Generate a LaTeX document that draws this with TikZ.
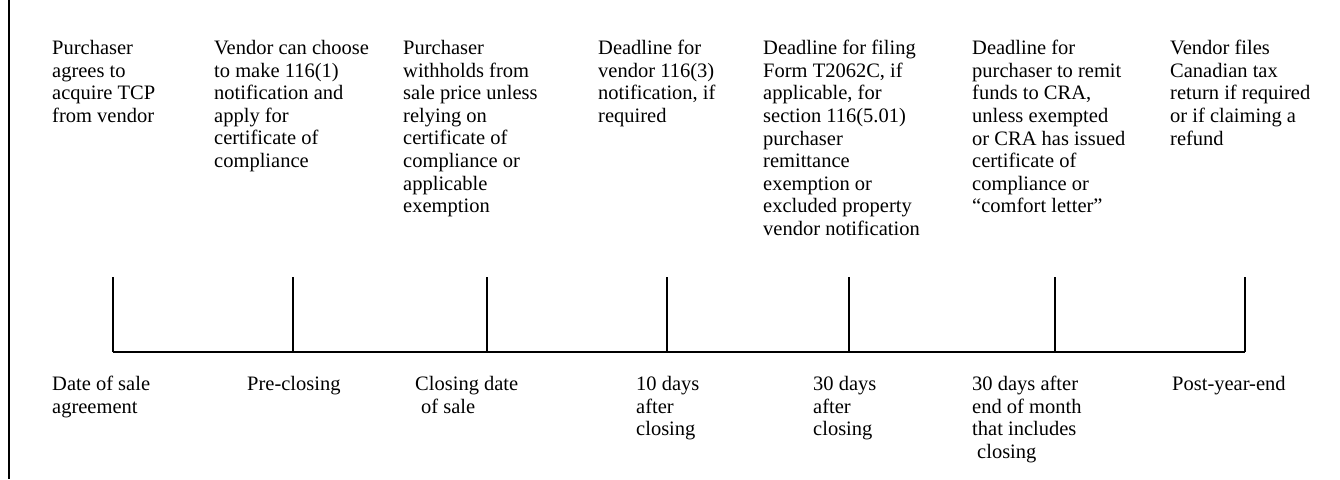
\documentclass[tikz,border=0pt]{standalone}
\usepackage{fontspec}
\setmainfont{Liberation Serif}
\usepackage{tikz}
\usetikzlibrary{arrows,shapes}
\tikzstyle{event}=[anchor=north west,align=left,inner sep=0pt,font=\fontsize{20.5}{22.6}\selectfont]
\tikzstyle{when}=[anchor=north west,align=left,inner sep=0pt,font=\fontsize{20.5}{22.6}\selectfont]
\tikzstyle{tick}=[coordinate]
\tikzstyle{edge} = [draw,line width=1.8pt,-]

\begin{document}
\begin{tikzpicture}[x=1pt,y=-1pt]
        \useasboundingbox (0,0) rectangle (1340,479);
        \coordinate (top) at (9,0);
        \coordinate (bot) at (9,479);
        \draw[line width=1.4pt] (top) -- (bot);
        % points on the time line
        \node[tick] (t1) at (113,352) {};
        \node[tick] (t2) at (293,352) {};
        \node[tick] (t3) at (487,352) {};
        \node[tick] (t4) at (667,352) {};
        \node[tick] (t5) at (849,352) {};
        \node[tick] (t6) at (1055,352) {};
        \node[tick] (t7) at (1245,352) {};
        \node[tick] (u1) at (113,277) {};
        \node[tick] (u2) at (293,277) {};
        \node[tick] (u3) at (487,277) {};
        \node[tick] (u4) at (667,277) {};
        \node[tick] (u5) at (849,277) {};
        \node[tick] (u6) at (1055,277) {};
        \node[tick] (u7) at (1245,277) {};
        \draw[edge] (t1) to (t7);
        \draw[edge] (t1) to (u1);
        \draw[edge] (t2) to (u2);
        \draw[edge] (t3) to (u3);
        \draw[edge] (t4) to (u4);
        \draw[edge] (t5) to (u5);
        \draw[edge] (t6) to (u6);
        \draw[edge] (t7) to (u7);
        % what happens
        \node[event] (agree) at (52,40) {Purchaser\\agrees to\\acquire TCP\\from vendor};
        \node[event] (choose) at (214,40) {Vendor can choose\\to make 116(1)\\notification and\\apply for\\certificate of\\compliance};
        \node[event] (withhold) at (403,40) {Purchaser\\withholds from\\sale price unless\\relying on\\certificate of\\compliance or\\applicable\\exemption};
        \node[event] (notify) at (598,40) {Deadline for\\vendor 116(3)\\notification, if\\required};
        \node[event] (filing) at (763,40) {Deadline for filing\\Form T2062C, if\\applicable, for\\section 116(5.01)\\purchaser\\remittance\\exemption or\\excluded property\\vendor notification};
        \node[event] (remit) at (972,40) {Deadline for\\purchaser to remit\\funds to CRA,\\unless exempted\\or CRA has issued\\certificate of\\compliance or\\``comfort letter''};
        \node[event] (files) at (1170,40) {Vendor files\\Canadian tax\\return if required\\or if claiming a\\refund};
        % when it happens
        \node[when] (sale) at (52,376) {Date of sale\\agreement};
        \node[when] (pre) at (247,376) {Pre-closing};
        \node[when] (close) at (415,376) {Closing date\\\hspace{6pt}of sale};
        \node[when] (ten) at (636,376) {10 days\\after\\closing};
        \node[when] (thirty) at (813,376) {30 days\\after\\closing};
        \node[when] (month) at (972,376) {30 days after\\end of month\\that includes\\\hspace{5pt}closing};
        \node[when] (post) at (1172,376) {Post-year-end};
      \end{tikzpicture}
\end{document}
